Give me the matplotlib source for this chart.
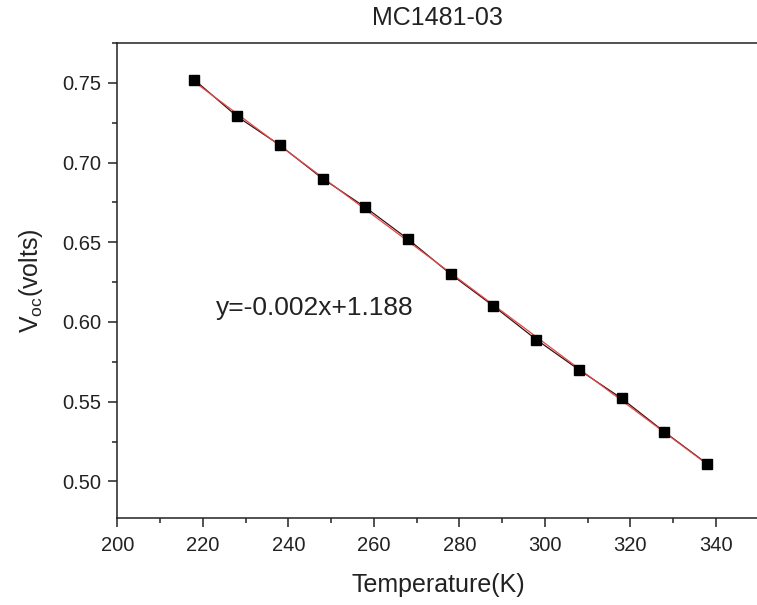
import matplotlib
matplotlib.use("Agg")
import matplotlib.pyplot as plt
from matplotlib.ticker import MultipleLocator
import numpy as np

plt.rcParams['font.family'] = ['Liberation Sans', 'DejaVu Sans']

temp = [218, 228, 238, 248, 258, 268, 278, 288, 298, 308, 318, 328, 338]
voc = [0.752, 0.729, 0.711, 0.690, 0.672, 0.652, 0.630, 0.610, 0.589, 0.570,
       0.552, 0.531, 0.511]
fit_label = "y=-0.002x+1.188"

fig = plt.figure(figsize=(7.57, 6.05), dpi=100)
ax = fig.add_axes([0.155, 0.1438, 0.847, 0.785])

# linear fit
k, b = np.polyfit(temp, voc, 1)
xf = np.array([temp[0], temp[-1]])

ax.plot(temp, voc, color="#3a1010", lw=0.9, zorder=2)
ax.plot(xf, k * xf + b, color="#e04848", lw=0.9, zorder=3)
ax.plot(temp, voc, ls="none", marker="s", ms=7.8, color="black", zorder=4)

ax.text(223.0, 0.6085, fit_label, fontsize=19, va="center", ha="left",
        color="#222222")

ax.set_xlim(200, 350)
ax.set_ylim(0.477, 0.775)
ax.xaxis.set_major_locator(MultipleLocator(20))
ax.xaxis.set_minor_locator(MultipleLocator(10))
ax.yaxis.set_major_locator(MultipleLocator(0.05))
ax.yaxis.set_minor_locator(MultipleLocator(0.025))
ax.yaxis.set_major_formatter(matplotlib.ticker.FormatStrFormatter("%.2f"))

ax.tick_params(which="major", direction="out", length=6.7, width=1.1,
               labelsize=14.5, pad=5, colors="#222222")
ax.tick_params(axis="x", which="major", pad=6.5)
ax.tick_params(which="minor", direction="out", length=3.4, width=1.1,
               colors="#222222")
for s in ax.spines.values():
    s.set_linewidth(1.1)
    s.set_color("#222222")

ax.set_xlabel("Temperature(K)", fontsize=18, labelpad=13, color="#222222")
ax.set_ylabel(r"V$_{\mathregular{oc}}$(volts)", fontsize=18, labelpad=12,
              color="#222222")
ax.set_title("MC1481-03", fontsize=18, pad=13, color="#222222")

fig.savefig("out.png", dpi=100)
